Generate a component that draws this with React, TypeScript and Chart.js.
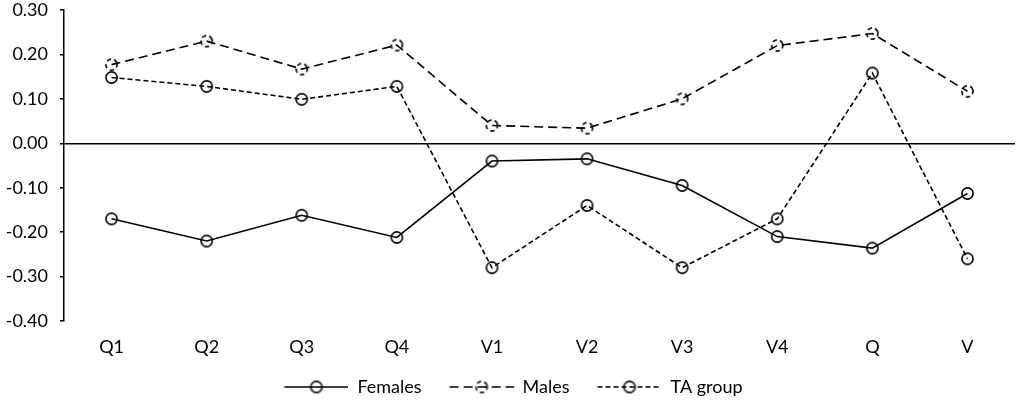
import { useEffect, useRef } from "react"
import { Chart, registerables } from "chart.js"

Chart.register(...registerables)

const categories = ["Q1", "Q2", "Q3", "Q4", "V1", "V2", "V3", "V4", "Q", "V"]
const females = [-0.17, -0.22, -0.162, -0.212, -0.04, -0.035, -0.095, -0.21, -0.236, -0.113]
const males = [0.177, 0.23, 0.167, 0.221, 0.04, 0.034, 0.1, 0.22, 0.247, 0.117]
const taGroup = [0.148, 0.128, 0.099, 0.128, -0.28, -0.14, -0.28, -0.17, 0.158, -0.26]
const seriesNames = ["Females", "Males", "TA group"]
const yMin = -0.4
const yMax = 0.3
const yStep = 0.1

const FONT = "Lato, 'Open Sans', sans-serif"

// circle marker, optionally with a dashed outline (Males)
function makeMarker(dashed: boolean) {
  const c = document.createElement("canvas")
  c.width = 15
  c.height = 15
  const g = c.getContext("2d")!
  g.strokeStyle = "#000"
  g.lineWidth = 1.6
  if (dashed) g.setLineDash([4.5, 3])
  g.beginPath()
  const start = dashed ? -0.3 : 0
  g.arc(7.5, 7.5, 5.6, start, start + Math.PI * 2)
  g.stroke()
  return c
}

// legend sample: line segment with marker in the middle (left part is spacing)
function makeLegendSample(dash: number[], dashedMarker: boolean) {
  const c = document.createElement("canvas")
  c.width = 72
  c.height = 16
  const g = c.getContext("2d")!
  g.strokeStyle = "#000"
  g.lineWidth = 1.6
  g.setLineDash(dash)
  g.beginPath()
  g.moveTo(8, 8)
  g.lineTo(72, 8)
  g.stroke()
  g.setLineDash([])
  g.drawImage(makeMarker(dashedMarker), 32.5, 0.5)
  return c
}

// fixed legend height so the plot keeps its size
const legendHeight = {
  id: "legendHeight",
  beforeInit(chart: any) {
    const fit = chart.legend.fit
    chart.legend.fit = function () {
      fit.bind(chart.legend)()
      this.height = 50
    }
  },
}

export default function App() {
  const chartRef = useRef<HTMLCanvasElement>(null)
  const chartInstance = useRef<Chart | null>(null)

  useEffect(() => {
    document.body.style.margin = "0"
    if (!chartRef.current) return
    if (chartInstance.current) chartInstance.current.destroy()
    const ctx = chartRef.current.getContext("2d")
    if (!ctx) return

    const circle = makeMarker(false)
    const dashedCircle = makeMarker(true)
    const legendSamples = [
      makeLegendSample([], false),
      makeLegendSample([9, 5], true),
      makeLegendSample([5, 3], false),
    ]

    chartInstance.current = new Chart(ctx, {
      type: "line",
      data: {
        labels: categories,
        datasets: [
          {
            label: seriesNames[0],
            data: females,
            borderColor: "#000",
            borderWidth: 1.6,
            pointStyle: circle,
          },
          {
            label: seriesNames[1],
            data: males,
            borderColor: "#000",
            borderWidth: 1.6,
            borderDash: [9, 5],
            pointStyle: dashedCircle,
          },
          {
            label: seriesNames[2],
            data: taGroup,
            borderColor: "#000",
            borderWidth: 1.6,
            borderDash: [5, 3],
            pointStyle: circle,
          },
        ],
      },
      plugins: [legendHeight],
      options: {
        responsive: true,
        maintainAspectRatio: false,
        animation: false,
        layout: { padding: { left: 4, right: 6, top: 0, bottom: 0 } },
        scales: {
          x: {
            offset: true,
            grid: { display: false, drawTicks: false },
            border: { display: false },
            ticks: {
              color: "#000",
              padding: 15,
              font: { family: FONT, size: 18 },
            },
            afterFit: (s) => {
              s.height = 37
            },
          },
          y: {
            min: yMin,
            max: yMax,
            ticks: {
              stepSize: yStep,
              color: "#000",
              padding: 12,
              font: { family: FONT, size: 18 },
              callback: (v) => {
                const n = Number(v)
                return Math.abs(n) < 1e-9 ? "0.00" : n.toFixed(2)
              },
            },
            grid: {
              color: (c) => (Math.abs(c.tick?.value ?? 1) < 1e-9 ? "#000" : "rgba(0,0,0,0)"),
              lineWidth: 1.5,
              tickColor: "#000",
              tickLength: 4,
            },
            border: { display: true, color: "#000", width: 1.5 },
            afterFit: (s) => {
              s.width = 60
              s.paddingTop = 10
              s.paddingBottom = 10
            },
          },
        },
        plugins: {
          legend: {
            display: true,
            position: "bottom",
            labels: {
              usePointStyle: true,
              pointStyleWidth: 72,
              padding: 20,
              color: "#000",
              font: { family: FONT, size: 18 },
              generateLabels: (chart) =>
                Chart.defaults.plugins.legend.labels
                  .generateLabels(chart)
                  .map((item, i) => ({ ...item, pointStyle: legendSamples[i] })),
            },
          },
          tooltip: { enabled: false },
        },
      },
    })

    return () => {
      if (chartInstance.current) {
        chartInstance.current.destroy()
        chartInstance.current = null
      }
    }
  }, [])

  return (
    <div style={{ width: 1021, height: 408, position: "relative" }}>
      <canvas ref={chartRef} />
    </div>
  )
}
